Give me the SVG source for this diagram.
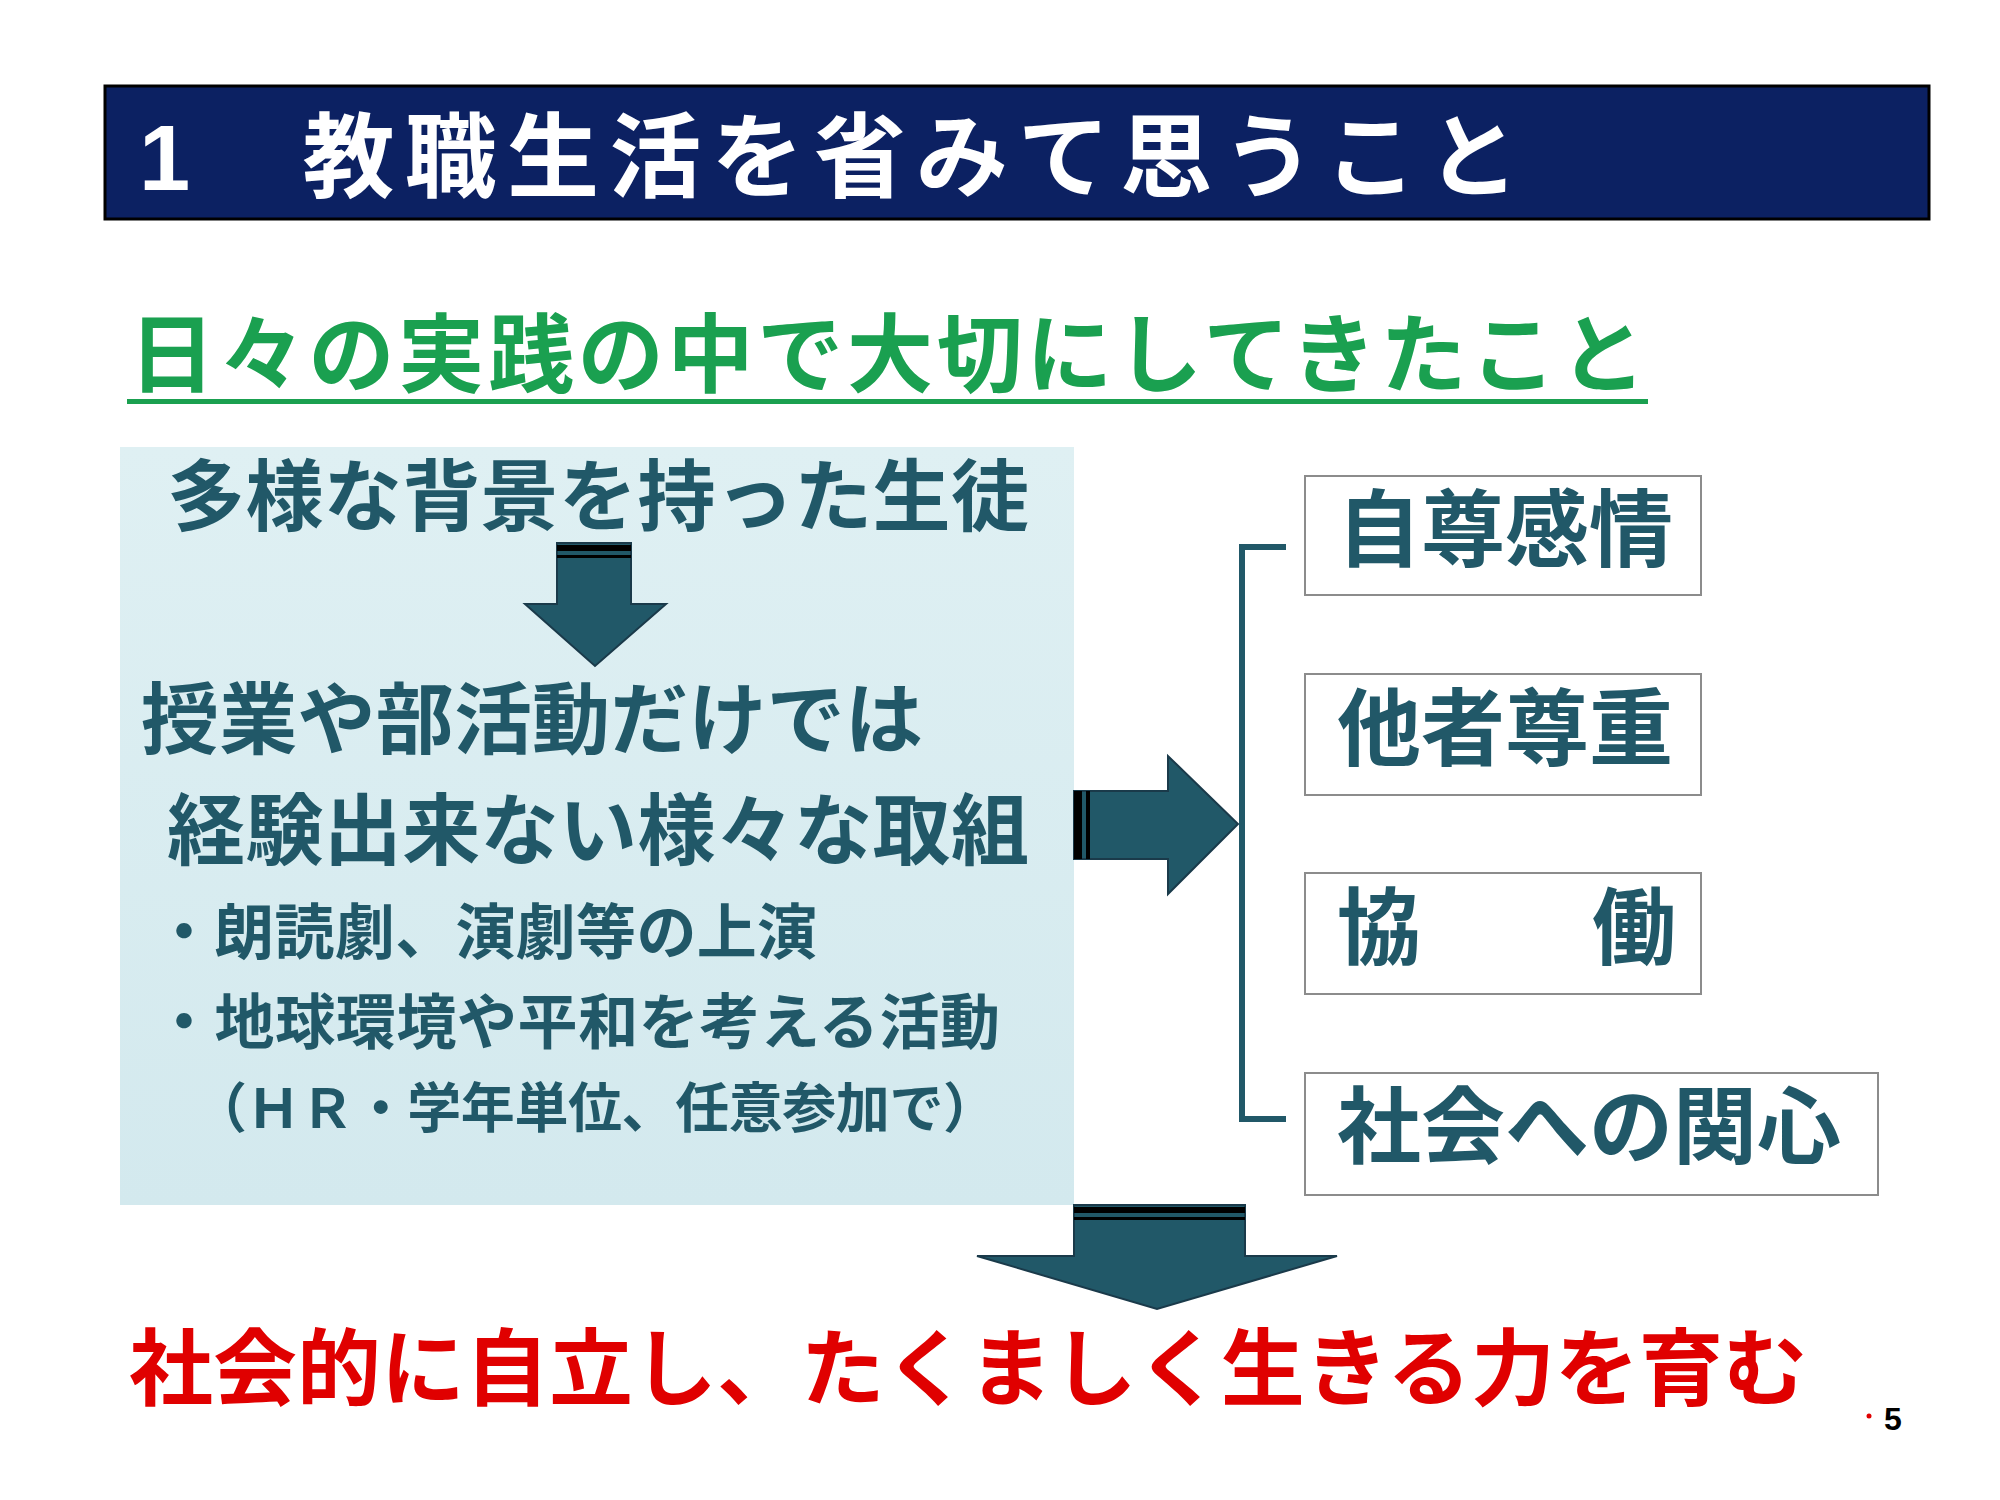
<svg xmlns="http://www.w3.org/2000/svg" width="2000" height="1500" viewBox="0 0 2000 1500">
<style>
text{font-family:"Liberation Sans","Noto Sans CJK JP",sans-serif;font-weight:bold}
.t{fill:#215868}
.box{fill:#fff;stroke:#8c8c8c;stroke-width:2}
.arr{fill:#215868;stroke:#1a3a4a;stroke-width:2}
</style>
<defs><linearGradient id="g" x1="0" y1="0" x2="0" y2="1"><stop offset="0" stop-color="#dff0f3"/><stop offset="1" stop-color="#d3e9ee"/></linearGradient></defs>
<rect width="2000" height="1500" fill="#fff"/>
<g id="title"><rect x="105" y="86" width="1824" height="133" fill="#0c2162" stroke="#000" stroke-width="3"/>
<text x="139" y="190" font-size="92" fill="#fff" textLength="1380">1　教職生活を省みて思うこと</text></g>
<g id="heading"><text x="129" y="386" font-size="86" fill="#1aa050" textLength="1517">日々の実践の中で大切にしてきたこと</text>
<rect x="127" y="399" width="1521" height="5" fill="#1aa050"/></g>
<g id="left"><rect x="120" y="447" width="954" height="758" fill="url(#g)"/>
<text class="t" x="167" y="525" font-size="78" textLength="862">多様な背景を持った生徒</text>
<text class="t" x="141" y="748" font-size="78" textLength="782">授業や部活動だけでは</text>
<text class="t" x="167" y="859" font-size="78" textLength="862">経験出来ない様々な取組</text>
<text class="t" x="154" y="954" font-size="60" textLength="663">・朗読劇、演劇等の上演</text>
<text class="t" x="154" y="1044" font-size="60" textLength="846">・地球環境や平和を考える活動</text>
<text class="t" x="193" y="1128" font-size="54" textLength="804">（ＨＲ・学年単位、任意参加で）</text></g>
<g id="connectors">
<path class="arr" d="M557 543H631V604H666L595 666L525 604H557Z"/>
<rect x="557" y="545" width="74" height="6" fill="#000"/><rect x="557" y="555" width="74" height="3" fill="#000"/>
<path class="arr" d="M1074 791H1168V756L1238 824L1168 894V859H1074Z"/>
<rect x="1074" y="791" width="8" height="68" fill="#000"/><rect x="1086" y="791" width="4" height="68" fill="#000"/>
<path d="M1286 547H1242V1119H1286" fill="none" stroke="#215868" stroke-width="6"/>
<path class="arr" d="M1074 1205H1245V1256H1337L1157 1309L977 1256H1074Z"/>
<rect x="1074" y="1207" width="171" height="6" fill="#000"/><rect x="1074" y="1217" width="171" height="3" fill="#000"/>
</g>
<g id="n1"><rect class="box" x="1305" y="476" width="396" height="119"/><text class="t" x="1337" y="560" font-size="84">自尊感情</text></g>
<g id="n2"><rect class="box" x="1305" y="674" width="396" height="121"/><text class="t" x="1337" y="759" font-size="84">他者尊重</text></g>
<g id="n3"><rect class="box" x="1305" y="873" width="396" height="121"/><text class="t" x="1337" y="958" font-size="84">協</text><text class="t" x="1592" y="958" font-size="84">働</text></g>
<g id="n4"><rect class="box" x="1305" y="1073" width="573" height="122"/><text class="t" x="1337" y="1157" font-size="84">社会への関心</text></g>
<g id="result"><text x="129" y="1399" font-size="84" fill="#e00000" textLength="1678">社会的に自立し、たくましく生きる力を育む</text></g>
<circle cx="1869" cy="1416" r="2.5" fill="#e00000"/>
<text x="1884" y="1430" font-size="32" fill="#000">5</text>
</svg>
